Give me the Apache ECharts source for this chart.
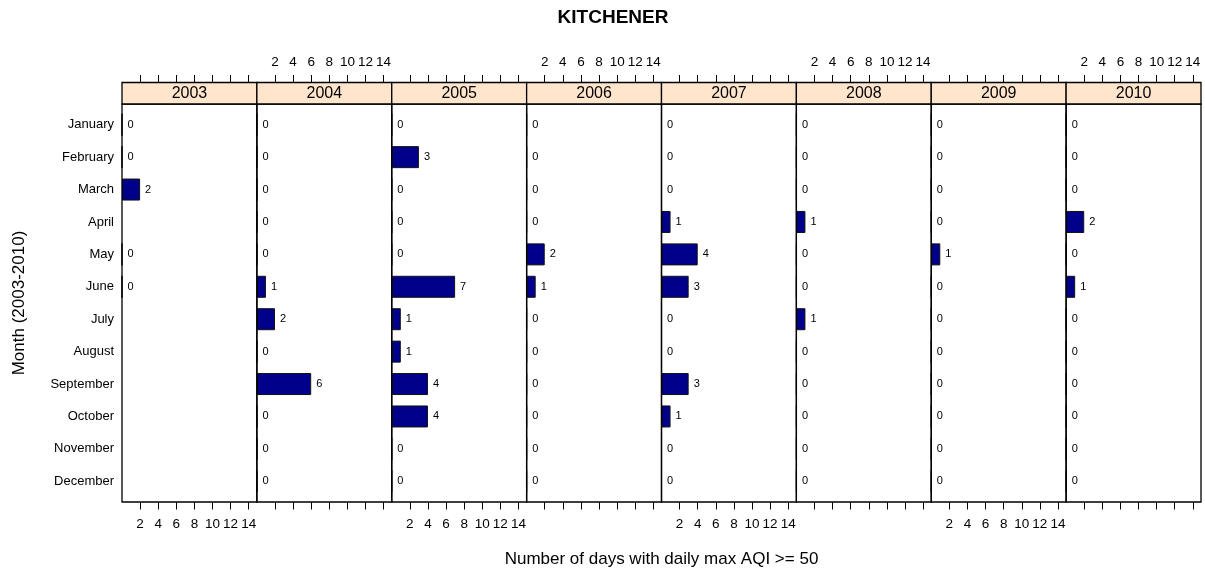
<!DOCTYPE html>
<html>
<head>
<meta charset="utf-8">
<script src="https://cdn.jsdelivr.net/npm/echarts@6/dist/echarts.min.js"></script>
<style>
  html, body { margin: 0; padding: 0; background: #fff; }
  #chart { width: 1205px; height: 571px; }
</style>
</head>
<body>
<div id="chart"></div>
<script>
  /******************/
  //region    //data

  const months = ['January', 'February', 'March', 'April', 'May', 'June',
    'July', 'August', 'September', 'October', 'November', 'December'];
  const years = ['2003', '2004', '2005', '2006', '2007', '2008', '2009', '2010'];

  // null = month not recorded
  const v2003 = [0, 0, 2, null, 0, 0, null, null, null, null, null, null];
  const v2004 = [0, 0, 0, 0, 0, 1, 2, 0, 6, 0, 0, 0];
  const v2005 = [0, 3, 0, 0, 0, 7, 1, 1, 4, 4, 0, 0];
  const v2006 = [0, 0, 0, 0, 2, 1, 0, 0, 0, 0, 0, 0];
  const v2007 = [0, 0, 0, 1, 4, 3, 0, 0, 3, 1, 0, 0];
  const v2008 = [0, 0, 0, 1, 0, 0, 1, 0, 0, 0, 0, 0];
  const v2009 = [0, 0, 0, 0, 1, 0, 0, 0, 0, 0, 0, 0];
  const v2010 = [0, 0, 0, 2, 0, 1, 0, 0, 0, 0, 0, 0];
  const yearValues = [v2003, v2004, v2005, v2006, v2007, v2008, v2009, v2010];

  const tickValues = [2, 4, 6, 8, 10, 12, 14];

  //endregion

  /******************/
  //region    //layout

  const W = 1205, H = 571;
  const plotLeft = 122, plotRight = 1201;
  const panelTop = 104, panelBottom = 502;
  const stripH = 21.5;
  const pad = 4.5;              // lattice padding between panel edge and first/last bar band
  const panelW = (plotRight - plotLeft) / years.length;
  const font = 'Liberation Sans, Arial, Helvetica, sans-serif';

  //endregion

  let grids = [], xAxes = [], yAxes = [], series = [], graphics = [];

  years.forEach((yr, i) => {
    let left = plotLeft + i * panelW;
    grids.push({
      left: left, width: panelW,
      top: panelTop + pad, bottom: H - (panelBottom - pad),
      containLabel: false, outerBoundsMode: 'none',
      show: false,
    });

    // bottom axis (labels on 2003, 2005, 2007, 2009)
    xAxes.push({
      type: 'value', gridIndex: i, position: 'bottom', min: 0, max: 14.9,
      offset: pad,
      axisLine: {show: false},
      splitLine: {show: false},
      axisTick: {show: true, length: 7.5, customValues: tickValues, lineStyle: {color: '#000'}},
      axisLabel: {
        show: i % 2 === 0, customValues: tickValues, margin: 15,
        color: '#000', fontSize: 13.5, fontFamily: font,
      },
    });
    // top axis (labels on 2004, 2006, 2008, 2010)
    xAxes.push({
      type: 'value', gridIndex: i, position: 'top', min: 0, max: 14.9,
      offset: pad + stripH,
      axisLine: {show: false},
      splitLine: {show: false},
      axisTick: {show: true, length: 7.5, customValues: tickValues, lineStyle: {color: '#000'}},
      axisLabel: {
        show: i % 2 === 1, customValues: tickValues, margin: 13,
        color: '#000', fontSize: 13.5, fontFamily: font,
      },
    });

    yAxes.push({
      type: 'category', gridIndex: i, data: months, inverse: true,
      axisLine: {show: false},
      axisTick: {show: false},
      splitLine: {show: false},
      axisLabel: {show: i === 0, color: '#000', fontSize: 13, fontFamily: font, margin: 8},
    });

    series.push({
      type: 'bar', xAxisIndex: 2 * i, yAxisIndex: i,
      data: yearValues[i].map(v => v === null ? '-' : v),
      barWidth: 22,
      itemStyle: {color: '#00008B', borderColor: '#111', borderWidth: 1},
      label: {
        show: true, position: 'right', distance: 5,
        color: '#000', fontSize: 11, fontFamily: font,
      },
      silent: true,
    });

    // panel box
    graphics.push({
      type: 'rect', z: 100,
      shape: {x: left, y: panelTop, width: panelW, height: panelBottom - panelTop},
      style: {fill: 'none', stroke: '#000', lineWidth: 1.3},
    });
    // strip
    graphics.push({
      type: 'rect', z: 100,
      shape: {x: left, y: panelTop - stripH, width: panelW, height: stripH},
      style: {fill: '#ffe5cc', stroke: '#000', lineWidth: 1.3},
    });
    graphics.push({
      type: 'text', z: 101,
      x: left + panelW / 2, y: panelTop - stripH / 2,
      style: {text: yr, fill: '#000', font: '16px ' + font, textAlign: 'center', textVerticalAlign: 'middle'},
    });
  });

  // titles
  graphics.push({
    type: 'text', x: 613, y: 18,
    style: {text: 'KITCHENER', fill: '#000', font: 'bold 19px ' + font, textAlign: 'center', textVerticalAlign: 'middle'},
  });
  graphics.push({
    type: 'text', x: (plotLeft + plotRight) / 2, y: 559,
    style: {
      text: 'Number of days with daily max AQI >= 50', fill: '#000',
      font: '17px ' + font, textAlign: 'center', textVerticalAlign: 'middle'
    },
  });
  graphics.push({
    type: 'text', x: 19, y: (panelTop + panelBottom) / 2, rotation: Math.PI / 2,
    style: {
      text: 'Month (2003-2010)', fill: '#000',
      font: '17px ' + font, textAlign: 'center', textVerticalAlign: 'middle'
    },
  });

  let chart = echarts.init(document.getElementById('chart'), null, {renderer: 'canvas'});
  chart.setOption({
    animation: false,
    backgroundColor: '#fff',
    grid: grids,
    xAxis: xAxes,
    yAxis: yAxes,
    series: series,
    graphic: graphics,
  });
</script>
</body>
</html>
